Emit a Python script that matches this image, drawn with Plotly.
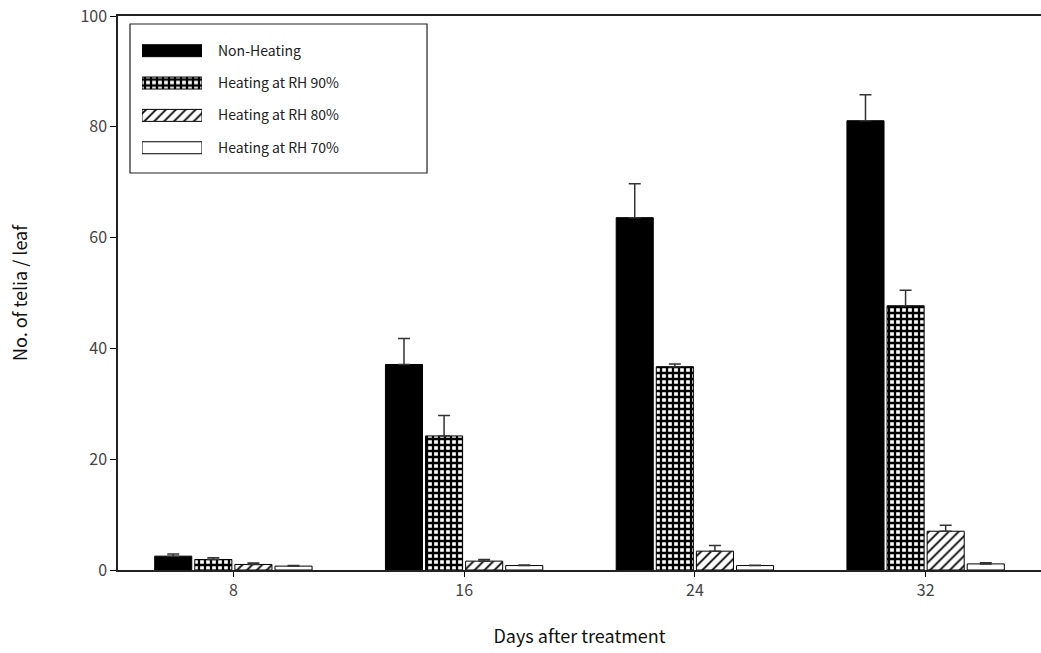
import plotly.graph_objects as go

days = [8, 16, 24, 32]
series = ["Non-Heating", "Heating at RH 90%", "Heating at RH 80%", "Heating at RH 70%"]
non_heating = [2.5, 37.1, 63.6, 81.1]
non_heating_err = [0.4, 4.7, 6.1, 4.7]
rh90 = [1.9, 24.2, 36.7, 47.7]
rh90_err = [0.3, 3.7, 0.5, 2.8]
rh80 = [1.0, 1.6, 3.4, 7.0]
rh80_err = [0.25, 0.3, 1.0, 1.1]
rh70 = [0.7, 0.8, 0.8, 1.1]
rh70_err = [0.1, 0.1, 0.05, 0.2]

values = [non_heating, rh90, rh80, rh70]
errors = [non_heating_err, rh90_err, rh80_err, rh70_err]
fills = ["black", "white", "white", "white"]
shapes = ["", "+", "/", ""]
solid = [0.3, 0.62, 0.25, 0.3]
psize = [6, 6, 7, 6]

FONT = "Noto Sans CJK KR, Noto Sans, sans-serif"


def pat(s, so, ps):
    if not s:
        return None
    return dict(shape=s, fgcolor="black", bgcolor="white", size=ps, solidity=so,
                fillmode="replace")


fig = go.Figure()
for name, v, e, c, s, so, ps in zip(series, values, errors, fills, shapes, solid, psize):
    fig.add_trace(go.Bar(
        x=days, y=v, name=name, showlegend=False,
        marker=dict(color=c, line=dict(color="black", width=1), pattern=pat(s, so, ps)),
        error_y=dict(type="data", symmetric=False, array=e, arrayminus=[0] * len(e),
                     color="#333333", thickness=1.5, width=6),
    ))

# legend swatches drawn as small horizontal bars (one per series)
for i, (name, c, s, so, ps) in enumerate(zip(series, fills, shapes, solid, psize)):
    fig.add_trace(go.Bar(
        x=[1], y=[i], orientation="h", base=0, width=0.37, offset=-0.185,
        xaxis="x2", yaxis="y2", showlegend=False, hoverinfo="skip", name=name,
        marker=dict(color=c, line=dict(color="black", width=1), pattern=pat(s, so, ps)),
    ))

fig.update_layout(
    width=1041, height=653,
    margin=dict(l=118, r=0, t=16, b=83),
    paper_bgcolor="white", plot_bgcolor="white",
    barmode="group", bargap=0.305, bargroupgap=0.075,
    font=dict(family=FONT, size=15, color="#333333"),
    showlegend=False,
    xaxis=dict(range=[4, 36], tickvals=days, ticks="outside", ticklen=5, tickwidth=1.2,
               tickcolor="black", showline=True, linecolor="#222222", linewidth=1.5,
               mirror=True, showgrid=False, zeroline=False,
               tickfont=dict(size=16, color="#444444"),
               title=dict(text="Days after treatment", standoff=30,
                          font=dict(size=18, color="#111111"))),
    yaxis=dict(range=[0, 100], dtick=20, ticks="outside", ticklen=6, tickwidth=1.2,
               tickcolor="black", showline=True, linecolor="#222222", linewidth=1.5,
               showgrid=False, zeroline=False,
               tickfont=dict(size=16, color="#444444"),
               title=dict(text="No. of telia / leaf", standoff=48,
                          font=dict(size=18, color="#111111"))),
    xaxis2=dict(domain=[0.026, 0.091], anchor="y2", range=[0, 1], visible=False,
                fixedrange=True),
    yaxis2=dict(domain=[0.733, 0.9666], anchor="x2", range=[3.5, -0.5], side="right",
                tickvals=[0, 1, 2, 3], ticktext=series, ticks="", showline=False,
                showgrid=False, zeroline=False, ticklabelstandoff=15, automargin=False,
                tickfont=dict(size=14, color="#222222"), fixedrange=True),
    shapes=[dict(type="rect", xref="paper", yref="paper", x0=0.013, x1=0.3348,
                 y0=0.7166, y1=0.9856, line=dict(color="#222222", width=1.2),
                 fillcolor="rgba(0,0,0,0)", layer="below")],
)

fig.write_html("out.html")
